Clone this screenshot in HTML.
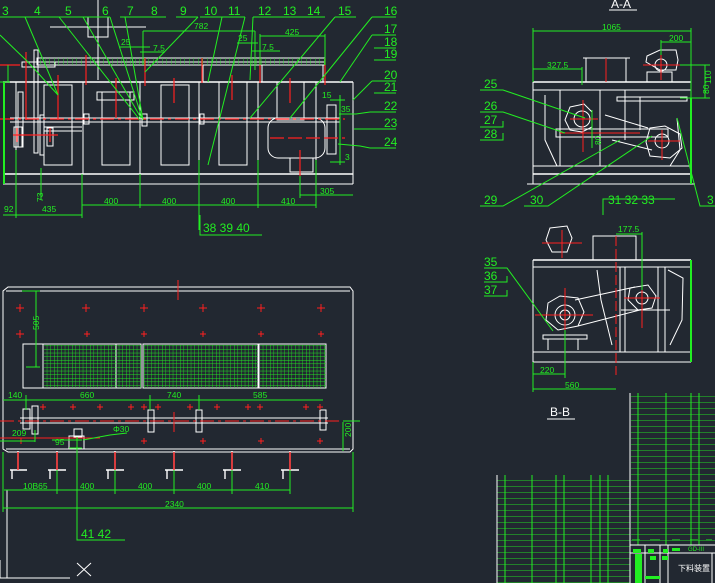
<!DOCTYPE html>
<html><head><meta charset="utf-8"><style>
html,body{margin:0;padding:0;background:#222831;}
svg{display:block}
text{font-family:"Liberation Sans",sans-serif;fill:#22ee22}
</style></head><body>
<svg width="715" height="583" viewBox="0 0 715 583" xmlns="http://www.w3.org/2000/svg">
<defs>
<pattern id="grid" width="3.6" height="3.6" patternUnits="userSpaceOnUse"><path d="M0 0H3.6M0 0V3.6" stroke="#22ee22" stroke-width="0.8" fill="none"/></pattern>
<pattern id="rail" width="4.5" height="10" patternUnits="userSpaceOnUse"><path d="M0 0V10" stroke="#22ee22" stroke-width="0.8"/></pattern>
<pattern id="rows" width="10" height="6" patternUnits="userSpaceOnUse"><path d="M0 0H10" stroke="#22ee22" stroke-width="0.9"/></pattern>
</defs>
<rect width="715" height="583" fill="#222831"/>

<!-- ===== FRONT VIEW ===== -->
<g fill="none" stroke="#fff" stroke-width="1">
<line x1="3" y1="82" x2="353" y2="82" stroke-width="1.5"/>
<line x1="3" y1="174" x2="353" y2="174" stroke-width="1.5"/>
<line x1="3" y1="184" x2="353" y2="184"/>
<line x1="353" y1="82" x2="353" y2="184"/>
<line x1="16" y1="82" x2="16" y2="174"/>
<rect x="37" y="58" width="288" height="7"/>
<line x1="37" y1="62" x2="325" y2="62"/>
<line x1="86" y1="65" x2="86" y2="82"/><line x1="145" y1="65" x2="145" y2="82"/><line x1="203" y1="65" x2="203" y2="82"/><line x1="262" y1="65" x2="262" y2="82"/><line x1="323" y1="65" x2="323" y2="82"/>
<rect x="44" y="85" width="28" height="80"/><rect x="102" y="92" width="28" height="73"/><rect x="161" y="85" width="28" height="80"/><rect x="219" y="82" width="28" height="83"/><rect x="277" y="82" width="27" height="38"/>
<rect x="268" y="118" width="57" height="40" rx="10"/>
<rect x="290" y="158" width="23" height="14"/>
<rect x="327" y="105" width="9" height="49"/>
<rect x="97" y="92" width="37" height="8"/>
<line x1="10" y1="118" x2="340" y2="118"/><line x1="10" y1="122" x2="340" y2="122"/>
<rect x="34" y="50" width="4" height="103"/><rect x="40" y="115" width="4" height="40"/>
<rect x="18" y="92" width="5" height="55"/>
<rect x="14" y="127" width="8" height="20"/><rect x="47" y="128" width="6" height="18"/>
<line x1="44" y1="127" x2="82" y2="127"/><line x1="44" y1="131" x2="82" y2="131"/>
<line x1="83" y1="82" x2="83" y2="174"/><line x1="140" y1="82" x2="140" y2="174"/><line x1="199" y1="82" x2="199" y2="174"/><line x1="258" y1="82" x2="258" y2="174"/><line x1="316" y1="82" x2="316" y2="174"/>
<rect x="84" y="114" width="5" height="10"/><rect x="142" y="114" width="5" height="12"/><rect x="200" y="114" width="4" height="10"/>
<rect x="22" y="62" width="33" height="5"/>
<rect x="88" y="17" width="20" height="20"/>
<line x1="98" y1="0" x2="98" y2="80"/><line x1="50" y1="27" x2="146" y2="27"/>
</g>
<rect x="37" y="58" width="288" height="7" fill="url(#rail)"/>
<g stroke="#ff2020" stroke-width="1.2" fill="none">
<line x1="0" y1="119" x2="345" y2="119" stroke-dasharray="14 4 3 4"/>
<line x1="270" y1="138" x2="345" y2="138" stroke-dasharray="14 4"/>
<line x1="26" y1="52" x2="26" y2="120"/><line x1="86" y1="55" x2="86" y2="85"/><line x1="145" y1="58" x2="145" y2="86"/><line x1="202" y1="58" x2="202" y2="83"/><line x1="260" y1="58" x2="260" y2="83"/><line x1="325" y1="58" x2="325" y2="85"/>
<line x1="58" y1="75" x2="58" y2="120"/><line x1="116" y1="78" x2="116" y2="118"/><line x1="174" y1="78" x2="174" y2="103"/><line x1="232" y1="75" x2="232" y2="100"/><line x1="290" y1="78" x2="290" y2="103"/>
<line x1="300" y1="150" x2="300" y2="176"/>
<line x1="13" y1="135" x2="58" y2="135"/><line x1="17" y1="128" x2="17" y2="142"/><line x1="50" y1="128" x2="50" y2="142"/>
<line x1="0" y1="65" x2="20" y2="65"/>
</g>
<g stroke="#22ee22" stroke-width="1" fill="none">
<line x1="4" y1="82" x2="4" y2="184" stroke-width="2"/>
<line x1="0" y1="17" x2="25" y2="17"/><line x1="25" y1="17" x2="83" y2="17"/><line x1="59" y1="17" x2="110" y2="17"/><line x1="120" y1="17" x2="166" y2="17"/><line x1="176" y1="17" x2="198" y2="17"/><line x1="200" y1="17" x2="245" y2="17"/><line x1="253" y1="17" x2="325" y2="17"/><line x1="335" y1="17" x2="356" y2="17"/>
<line x1="372" y1="17" x2="396" y2="17"/><line x1="372" y1="35" x2="396" y2="35"/><line x1="374" y1="48" x2="396" y2="48"/><line x1="374" y1="60" x2="396" y2="60"/><line x1="372" y1="81" x2="396" y2="81"/><line x1="374" y1="93" x2="396" y2="93"/><line x1="370" y1="112" x2="396" y2="112"/><line x1="354" y1="129" x2="396" y2="129"/><line x1="370" y1="148" x2="396" y2="148"/>
<polyline points="0,35 28,62 58,95"/><line x1="25" y1="17" x2="58" y2="95"/><line x1="59" y1="17" x2="140" y2="120"/><line x1="83" y1="17" x2="141" y2="118"/><line x1="110" y1="17" x2="142" y2="118"/><line x1="125" y1="17" x2="143" y2="120"/>
<line x1="198" y1="17" x2="145" y2="72"/><line x1="222" y1="17" x2="208" y2="82"/><line x1="245" y1="17" x2="208" y2="165"/><line x1="253" y1="17" x2="250" y2="80"/><line x1="335" y1="17" x2="250" y2="118"/><line x1="372" y1="17" x2="290" y2="118"/><line x1="372" y1="35" x2="340" y2="82"/><line x1="372" y1="81" x2="353" y2="100"/>
<polyline points="339,114 356,114 370,112"/><polyline points="338,144 360,146 370,148"/>
<line x1="143" y1="31" x2="255" y2="31"/><line x1="143" y1="31" x2="143" y2="65"/><line x1="255" y1="31" x2="255" y2="70"/>
<line x1="260" y1="36" x2="325" y2="36"/><line x1="260" y1="34" x2="260" y2="65"/><line x1="325" y1="34" x2="325" y2="65"/>
<line x1="120" y1="47" x2="150" y2="47"/><line x1="140" y1="52" x2="165" y2="52"/><line x1="237" y1="43" x2="258" y2="43"/><line x1="252" y1="51" x2="280" y2="51"/>
<line x1="3" y1="215" x2="82" y2="215"/><line x1="82" y1="174" x2="82" y2="218"/><line x1="82" y1="205" x2="316" y2="205"/><line x1="140" y1="174" x2="140" y2="208"/><line x1="199" y1="160" x2="199" y2="230"/><line x1="258" y1="160" x2="258" y2="208"/><line x1="316" y1="160" x2="316" y2="208"/>
<line x1="300" y1="195" x2="353" y2="195"/><line x1="300" y1="176" x2="300" y2="198"/>
<line x1="16" y1="150" x2="16" y2="218"/><line x1="41" y1="168" x2="41" y2="200"/>
<polyline points="200,215 200,235 262,235"/>
<line x1="330" y1="100" x2="345" y2="100"/><line x1="340" y1="95" x2="340" y2="165"/><line x1="330" y1="162" x2="345" y2="162"/>
<line x1="8" y1="65" x2="8" y2="82"/><line x1="0" y1="82" x2="10" y2="82"/>
</g>
<g font-size="12">
<text x="2" y="15">3</text><text x="34" y="15">4</text><text x="65" y="15">5</text><text x="102" y="15">6</text><text x="127" y="15">7</text><text x="151" y="15">8</text><text x="180" y="15">9</text><text x="204" y="15">10</text><text x="228" y="15">11</text><text x="258" y="15">12</text><text x="283" y="15">13</text><text x="307" y="15">14</text><text x="338" y="15">15</text>
<text x="384" y="15">16</text><text x="384" y="33">17</text><text x="384" y="46">18</text><text x="384" y="58">19</text><text x="384" y="79">20</text><text x="384" y="91">21</text><text x="384" y="110">22</text><text x="384" y="127">23</text><text x="384" y="146">24</text>
<text x="203" y="232">38 39 40</text>
</g>
<g font-size="8.5">
<text x="194" y="29">782</text><text x="285" y="35">425</text><text x="121" y="45">25</text><text x="153" y="51">7.5</text><text x="238" y="41">25</text><text x="262" y="50">7.5</text>
<text x="104" y="204">400</text><text x="162" y="204">400</text><text x="221" y="204">400</text><text x="281" y="204">410</text><text x="320" y="194">305</text><text x="42" y="212">435</text><text x="4" y="212">92</text><text x="322" y="98">15</text><text x="341" y="112">35</text><text x="345" y="160">3</text><text x="30" y="203" transform="rotate(-90 36 196)">73</text>
</g>

<!-- ===== PLAN VIEW ===== -->
<g fill="none" stroke="#fff" stroke-width="1">
<polygon points="8,287 350,287 353,291 353,449 350,452 8,452 3,449 3,291"/>
<line x1="6" y1="291" x2="350" y2="291"/><line x1="6" y1="449" x2="350" y2="449"/>
<line x1="20" y1="418" x2="328" y2="418"/><line x1="20" y1="423" x2="328" y2="423"/>
<rect x="23" y="344" width="20" height="44"/>
<rect x="23" y="409" width="7" height="20"/><rect x="32" y="406" width="6" height="28"/><rect x="148" y="410" width="6" height="22"/><rect x="196" y="410" width="6" height="22"/><rect x="320" y="410" width="6" height="20"/>
<rect x="69" y="436" width="15" height="13"/><rect x="74" y="429" width="8" height="8"/>
<g stroke-width="1.4">
<path d="M18 451V470M10 470H27M12 470V479"/><path d="M57 451V470M48 470H66M50 470V479"/><path d="M115 451V470M106 470H124M108 470V479"/><path d="M174 451V470M165 470H183M167 470V479"/><path d="M232 451V470M223 470H241M225 470V479"/><path d="M290 451V470M281 470H299M283 470V479"/>
</g>
<path d="M7 490V578H70M0 560V578H12M77 563L91 576M91 563L77 576"/>
<rect x="43" y="344" width="73" height="44" stroke-width="1"/><rect x="116" y="344" width="25" height="44"/><rect x="143" y="344" width="115" height="44"/><rect x="259" y="344" width="67" height="44"/>
</g>
<rect x="44" y="345" width="72" height="43" fill="url(#grid)"/><rect x="117" y="345" width="24" height="43" fill="url(#grid)"/><rect x="144" y="345" width="114" height="43" fill="url(#grid)"/><rect x="260" y="345" width="66" height="43" fill="url(#grid)"/>
<g stroke="#ff2020" stroke-width="1">
<line x1="0" y1="421" x2="345" y2="421" stroke-dasharray="14 4 3 4"/>
<line x1="0" y1="438" x2="100" y2="438"/><line x1="178" y1="280" x2="178" y2="300"/><line x1="174" y1="412" x2="174" y2="432"/>
<path d="M16 308h8M20 304v8M82 308h8M86 304v8M140 308h8M144 304v8M199 308h8M203 304v8M257 308h8M261 304v8M317 308h8M321 304v8
M16 334h8M20 330v8M84 334h6M87 331v6M141 334h6M144 331v6M200 334h6M203 331v6M258 334h6M261 331v6M318 334h6M321 331v6
M40 407h6M43 404v6M70 407h6M73 404v6M97 407h6M100 404v6M128 407h6M131 404v6M141 407h6M144 404v6M155 407h6M158 404v6M187 407h6M190 404v6M214 407h6M217 404v6M245 407h6M248 404v6M257 407h6M260 404v6M303 407h6M306 404v6M317 407h6M320 404v6
M141 441h6M144 438v6M200 441h6M203 438v6M258 441h6M261 438v6M317 441h6M320 438v6M18 441h6M21 438v6"/>
<path d="M18 452V470M57 452V470M115 452V470M174 452V470M232 452V470M290 452V470" stroke-width="1.4"/>
</g>
<g stroke="#22ee22" stroke-width="1" fill="none">
<line x1="36" y1="291" x2="36" y2="367"/><line x1="22" y1="291" x2="40" y2="291"/><line x1="26" y1="367" x2="40" y2="367"/>
<line x1="3" y1="400" x2="323" y2="400"/><line x1="26" y1="395" x2="26" y2="410"/><line x1="150" y1="395" x2="150" y2="410"/><line x1="199" y1="395" x2="199" y2="410"/>
<line x1="4" y1="490" x2="290" y2="490"/><line x1="3" y1="508" x2="353" y2="508"/><line x1="3" y1="452" x2="3" y2="512"/><line x1="353" y1="452" x2="353" y2="512"/><line x1="290" y1="470" x2="290" y2="494"/><line x1="57" y1="470" x2="57" y2="494"/><line x1="115" y1="470" x2="115" y2="494"/><line x1="174" y1="470" x2="174" y2="494"/><line x1="232" y1="470" x2="232" y2="494"/>
<line x1="343" y1="422" x2="343" y2="451"/><line x1="343" y1="421" x2="360" y2="421"/>
<line x1="0" y1="441" x2="35" y2="441"/><line x1="35" y1="430" x2="35" y2="442"/>
<line x1="52" y1="440" x2="82" y2="440"/><polyline points="83,440 110,435 127,433"/>
<polyline points="77,437 77,540 125,540"/><line x1="69" y1="448" x2="82" y2="448"/>
</g>
<g font-size="8.5">
<text x="8" y="398">140</text><text x="80" y="398">660</text><text x="167" y="398">740</text><text x="253" y="398">585</text>
<text x="12" y="436">209</text><text x="55" y="445">95</text><text x="113" y="432">Φ30</text>
<text x="23" y="489">10B65</text><text x="80" y="489">400</text><text x="138" y="489">400</text><text x="197" y="489">400</text><text x="255" y="489">410</text><text x="165" y="507">2340</text>
<text x="34" y="335" transform="rotate(-90 34 330)">505</text><text x="344" y="444" transform="rotate(-90 344 437)">200</text>
</g>
<text x="81" y="538" font-size="12">41  42</text>

<!-- ===== A-A VIEW ===== -->
<g fill="none" stroke="#fff" stroke-width="1">
<line x1="609" y1="10" x2="637" y2="10"/>
<line x1="533" y1="82" x2="691" y2="82" stroke-width="1.5"/><line x1="533" y1="90" x2="691" y2="90"/>
<line x1="533" y1="82" x2="533" y2="184"/><line x1="691" y1="82" x2="691" y2="184"/>
<line x1="533" y1="166" x2="691" y2="166"/><line x1="533" y1="174" x2="691" y2="174" stroke-width="1.5"/><line x1="527" y1="184" x2="695" y2="184"/>
<rect x="586" y="58" width="40" height="24"/><line x1="583" y1="58" x2="630" y2="58"/>
<rect x="647" y="72" width="25" height="10"/>
<polygon points="660,50 676,50 678,60 676,70 660,70 646,62 647,56"/>
<circle cx="661" cy="65" r="6"/>
<polygon points="570,107 584,104 592,112 592,127 582,132 570,130 565,120"/>
<circle cx="582" cy="119" r="8"/>
<rect x="556" y="129" width="112" height="8"/>
<polygon points="650,128 665,126 680,134 682,148 670,158 650,156 646,142"/>
<circle cx="662" cy="141" r="7"/>
<line x1="605" y1="115" x2="648" y2="128"/><line x1="612" y1="140" x2="652" y2="150"/>
<line x1="560" y1="90" x2="560" y2="166"/><line x1="600" y1="90" x2="600" y2="166"/><line x1="625" y1="90" x2="625" y2="140"/>
<polyline points="545,95 545,140 557,166"/><polyline points="677,118 680,150 670,166"/>
<rect x="617" y="97" width="70" height="4"/><line x1="640" y1="97" x2="640" y2="130"/>
</g>
<g stroke="#ff2020" stroke-width="1">
<line x1="583" y1="100" x2="583" y2="152"/><line x1="570" y1="119" x2="598" y2="119"/><line x1="560" y1="133" x2="640" y2="133"/>
<line x1="662" y1="130" x2="662" y2="160"/><line x1="648" y1="141" x2="680" y2="141"/>
<line x1="661" y1="52" x2="661" y2="80"/><line x1="643" y1="65" x2="680" y2="65"/><line x1="606" y1="58" x2="606" y2="82"/>
</g>
<g stroke="#22ee22" stroke-width="1" fill="none">
<line x1="533" y1="31" x2="691" y2="31"/><line x1="533" y1="28" x2="533" y2="82"/><line x1="691" y1="28" x2="691" y2="98"/>
<line x1="661" y1="42" x2="691" y2="42"/><line x1="661" y1="40" x2="661" y2="55"/>
<line x1="533" y1="69" x2="582" y2="69"/><line x1="582" y1="67" x2="582" y2="85"/>
<line x1="680" y1="65" x2="710" y2="65"/><line x1="680" y1="98" x2="710" y2="98"/><line x1="705" y1="65" x2="705" y2="98"/>
<line x1="691" y1="98" x2="691" y2="184" stroke-width="2"/><line x1="592" y1="110" x2="592" y2="148"/>
<polyline points="480,90 503,90 585,118"/><polyline points="480,112 503,112 565,133"/>
<polyline points="480,127 503,127 503,121"/><polyline points="480,140 503,140 503,133"/>
<polyline points="480,206 503,206 620,140"/><polyline points="524,206 548,206 652,136"/>
<polyline points="603,206 603,199 675,199"/><polyline points="603,199 603,215"/>
<polyline points="677,118 700,206 715,206"/>
</g>
<g font-size="12">
<text x="611" y="8" fill="#fff" style="fill:#fff">A-A</text>
<text x="484" y="88">25</text><text x="484" y="110">26</text><text x="484" y="124">27</text><text x="484" y="138">28</text>
<text x="484" y="204">29</text><text x="530" y="204">30</text><text x="608" y="204">31  32  33</text><text x="707" y="204">3</text>
<text x="484" y="266">35</text><text x="484" y="280">36</text><text x="484" y="294">37</text>
</g>
<g font-size="8.5">
<text x="602" y="30">1065</text><text x="669" y="41">200</text><text x="547" y="68">327.5</text><text x="702" y="85" transform="rotate(-90 706 80)">110</text><text x="702" y="97" transform="rotate(-90 704 92)">80</text><text x="593" y="147" transform="rotate(-90 596 142)">80</text>
</g>

<!-- ===== B-B VIEW ===== -->
<g fill="none" stroke="#fff" stroke-width="1">
<line x1="533" y1="260" x2="691" y2="260" stroke-width="1.5"/><line x1="533" y1="267" x2="691" y2="267"/>
<line x1="533" y1="260" x2="533" y2="362"/><line x1="691" y1="260" x2="691" y2="362"/>
<line x1="533" y1="352" x2="691" y2="352"/><line x1="533" y1="362" x2="691" y2="362"/>
<rect x="593" y="236" width="43" height="24"/>
<polygon points="550,228 567,226 572,238 567,252 552,252 546,240"/>
<polygon points="548,303 560,296 578,298 584,312 578,326 558,330 546,320"/>
<circle cx="565" cy="315" r="10"/><circle cx="565" cy="315" r="5"/>
<rect x="543" y="335" width="44" height="4"/><line x1="548" y1="339" x2="548" y2="350"/><line x1="578" y1="339" x2="578" y2="350"/>
<polygon points="630,288 648,285 656,296 652,308 638,310 628,300"/>
<circle cx="642" cy="298" r="6"/>
<line x1="575" y1="300" x2="635" y2="287"/><line x1="578" y1="326" x2="640" y2="310"/>
<line x1="620" y1="267" x2="620" y2="352"/><line x1="625" y1="267" x2="625" y2="352"/><line x1="658" y1="267" x2="658" y2="352"/><line x1="665" y1="267" x2="665" y2="352"/>
<polyline points="668,270 683,278 682,320 670,345"/><polyline points="597,270 601,300 612,345"/>
<line x1="621" y1="310" x2="670" y2="310"/>
</g>
<g stroke="#ff2020" stroke-width="1">
<line x1="565" y1="288" x2="565" y2="345"/><line x1="535" y1="315" x2="593" y2="315"/><line x1="642" y1="280" x2="642" y2="328"/><line x1="624" y1="298" x2="660" y2="298"/>
<line x1="616" y1="236" x2="616" y2="375" stroke-dasharray="10 3"/><line x1="542" y1="243" x2="582" y2="243"/><line x1="562" y1="230" x2="562" y2="258"/>
</g>
<g stroke="#22ee22" stroke-width="1" fill="none">
<line x1="616" y1="234" x2="642" y2="234"/><line x1="642" y1="232" x2="642" y2="290"/>
<polyline points="484,268 507,268 553,331"/><polyline points="484,282 507,282 507,276"/><polyline points="484,296 507,296 507,290"/>
<line x1="533" y1="374" x2="565" y2="374"/><line x1="565" y1="330" x2="565" y2="378"/><line x1="533" y1="362" x2="533" y2="392"/>
<line x1="533" y1="389" x2="616" y2="389"/><line x1="691" y1="260" x2="691" y2="362" stroke-width="2"/>
</g>
<g font-size="8.5"><text x="618" y="232">177.5</text><text x="540" y="373">220</text><text x="565" y="388">560</text></g>
<text x="550" y="416" font-size="12" style="fill:#fff">B-B</text>
<line x1="547" y1="419" x2="575" y2="419" stroke="#fff"/>

<!-- ===== TABLES ===== -->
<rect x="497" y="475" width="133" height="108" fill="url(#rows)"/>
<g stroke="#22ee22" stroke-width="1">
<line x1="505" y1="475" x2="505" y2="583"/><line x1="532" y1="475" x2="532" y2="583"/><line x1="556" y1="475" x2="556" y2="583"/><line x1="564" y1="475" x2="564" y2="583"/><line x1="591" y1="475" x2="591" y2="583"/><line x1="600" y1="475" x2="600" y2="583"/><line x1="608" y1="475" x2="608" y2="583"/>
</g>
<line x1="497" y1="475" x2="497" y2="583" stroke="#fff"/>
<rect x="631" y="393" width="84" height="150" fill="url(#rows)"/>
<g stroke="#22ee22" stroke-width="1">
<line x1="638" y1="393" x2="638" y2="545"/><line x1="666" y1="393" x2="666" y2="545"/><line x1="691" y1="393" x2="691" y2="545"/><line x1="699" y1="393" x2="699" y2="545"/>
<line x1="631" y1="545" x2="715" y2="545"/>
</g>
<line x1="630" y1="393" x2="630" y2="583" stroke="#fff"/>
<g stroke="#fff" stroke-width="1" fill="none">
<line x1="630" y1="545" x2="715" y2="545"/><line x1="630" y1="553" x2="715" y2="553"/>
<line x1="645" y1="545" x2="645" y2="583"/><line x1="660" y1="545" x2="660" y2="583"/><line x1="668" y1="545" x2="668" y2="583"/>
<line x1="668" y1="553" x2="715" y2="553"/><line x1="712" y1="553" x2="712" y2="583"/>
</g>
<g fill="#22ee22"><rect x="635" y="554" width="7" height="29"/><rect x="633" y="549" width="8" height="4"/><rect x="648" y="549" width="6" height="4"/><rect x="663" y="549" width="5" height="4"/><rect x="672" y="548" width="8" height="3"/><rect x="650" y="556" width="6" height="4"/><rect x="662" y="556" width="6" height="4"/><rect x="645" y="576" width="15" height="3"/></g>
<text x="688" y="551" font-size="6">GD-III</text>
<text x="678" y="571" font-size="8" style="fill:#fff;font-family:'Liberation Sans','Noto Sans CJK SC',sans-serif">下料装置</text>
<g stroke="#22ee22"><line x1="632" y1="540" x2="640" y2="540"/><line x1="650" y1="540" x2="660" y2="540"/><line x1="672" y1="540" x2="680" y2="540"/><line x1="690" y1="540" x2="698" y2="540"/><line x1="706" y1="540" x2="712" y2="540"/></g>
</svg>
</body></html>
